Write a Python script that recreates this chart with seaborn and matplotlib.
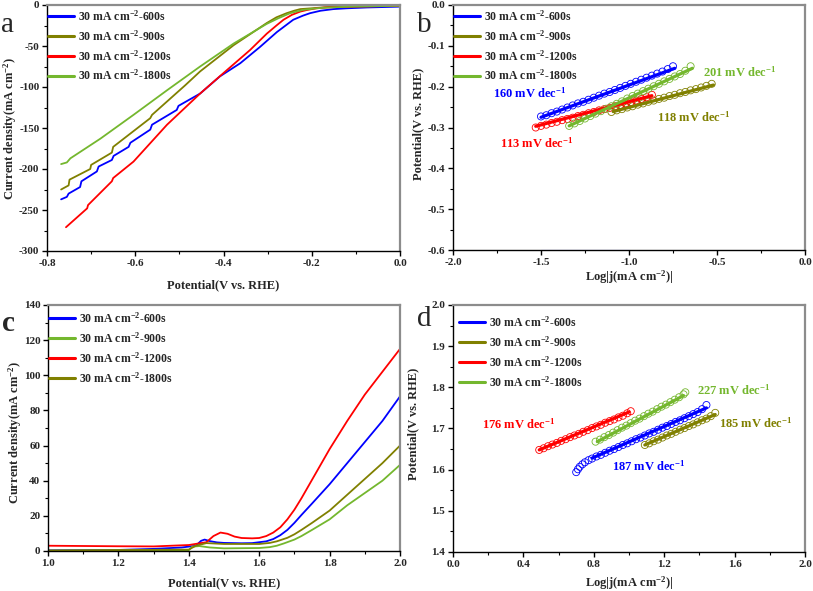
import numpy as np
import pandas as pd
import matplotlib
matplotlib.use("Agg")
import matplotlib.pyplot as plt
from matplotlib.ticker import MultipleLocator, FormatStrFormatter
import seaborn as sns

sns.set_theme(style="ticks")
plt.rcParams['font.family'] = ['Liberation Serif', 'DejaVu Serif']
plt.rcParams['font.weight'] = 'bold'
plt.rcParams['mathtext.fontset'] = 'custom'
plt.rcParams['mathtext.rm'] = 'Liberation Serif:bold'
plt.rcParams['mathtext.bf'] = 'Liberation Serif:bold'
plt.rcParams['mathtext.default'] = 'rm'
plt.rcParams['axes.unicode_minus'] = False

BLUE = '#0000FF'
RED = '#FF0000'
OLIVE = '#808000'
GREEN = '#74B72E'

labels = [r'30 mA cm$^{-2}$-600s', r'30 mA cm$^{-2}$-900s',
          r'30 mA cm$^{-2}$-1200s', r'30 mA cm$^{-2}$-1800s']

# ---------------- Panel a : HER LSV ----------------
a600_v = [-0.768, -0.755, -0.751, -0.725, -0.722, -0.687, -0.683, -0.653, -0.649, -0.615, -0.611,
          -0.566, -0.562, -0.506, -0.502, -0.453, -0.408, -0.362, -0.317, -0.279, -0.242, -0.22,
          -0.204, -0.18, -0.151, -0.12, -0.075, 0.0]
a600_j = [-237, -234, -230, -222, -215, -203, -197, -189, -184, -173, -168,
          -152, -146, -128, -123, -108, -87, -71, -51, -33, -18, -13,
          -10, -7, -5, -4, -3, -2]
a900_v = [-0.768, -0.751, -0.749, -0.702, -0.700, -0.653, -0.650, -0.566, -0.562, -0.487,
          -0.453, -0.377, -0.302, -0.28, -0.257, -0.24, -0.226, -0.20, -0.151, 0.0]
a900_j = [-225, -220, -213, -200, -195, -180, -173, -138, -134, -98,
          -81, -49, -22, -15, -10, -7, -5, -4, -2, -1]
a1200_v = [-0.757, -0.709, -0.707, -0.653, -0.650, -0.604, -0.528, -0.453, -0.400, -0.340,
           -0.302, -0.28, -0.264, -0.245, -0.226, -0.21, -0.189, -0.17, -0.113, 0.0]
a1200_j = [-271, -248, -244, -215, -211, -191, -146, -108, -83, -55,
           -35, -25, -18, -12, -8, -6, -4, -3, -2, -1]
a1800_v = [-0.768, -0.755, -0.747, -0.679, -0.604, -0.528, -0.453, -0.377, -0.302, -0.275,
           -0.249, -0.22, -0.189, -0.16, -0.113, 0.0]
a1800_j = [-194, -192, -187, -163, -134, -104, -75, -47, -23, -16,
           -10, -6, -4, -3, -2, -1]

# ---------------- Panel b : HER Tafel ----------------
b600_x = [-1.50, -1.47, -1.44, -1.41, -1.38, -1.35, -1.32, -1.29, -1.26, -1.23, -1.20, -1.17, -1.14,
          -1.11, -1.08, -1.05, -1.02, -0.99, -0.96, -0.93, -0.90, -0.87, -0.84, -0.81, -0.78, -0.75]
b600_y = [-0.273, -0.270, -0.265, -0.261, -0.256, -0.251, -0.246, -0.241, -0.237, -0.232, -0.227,
          -0.222, -0.217, -0.213, -0.208, -0.203, -0.198, -0.193, -0.188, -0.183, -0.178, -0.173,
          -0.168, -0.163, -0.157, -0.150]
b900_x = [-1.10, -1.07, -1.04, -1.01, -0.98, -0.95, -0.92, -0.89, -0.86, -0.83, -0.80, -0.77,
          -0.74, -0.71, -0.68, -0.65, -0.62, -0.59, -0.56, -0.53]
b900_y = [-0.262, -0.258, -0.255, -0.251, -0.248, -0.244, -0.241, -0.237, -0.234, -0.230, -0.227,
          -0.223, -0.220, -0.216, -0.213, -0.209, -0.206, -0.202, -0.198, -0.193]
b1200_x = [-1.53, -1.50, -1.47, -1.44, -1.41, -1.38, -1.35, -1.32, -1.29, -1.26, -1.23, -1.20,
           -1.17, -1.14, -1.11, -1.08, -1.05, -1.02, -0.99, -0.96, -0.93, -0.90, -0.87]
b1200_y = [-0.300, -0.296, -0.293, -0.289, -0.286, -0.282, -0.279, -0.276, -0.272, -0.269, -0.265,
           -0.262, -0.258, -0.255, -0.252, -0.248, -0.245, -0.241, -0.238, -0.234, -0.230, -0.226,
           -0.220]
b1800_x = [-1.34, -1.31, -1.28, -1.25, -1.22, -1.19, -1.16, -1.13, -1.10, -1.07, -1.04, -1.01,
           -0.98, -0.95, -0.92, -0.89, -0.86, -0.83, -0.80, -0.77, -0.74, -0.71, -0.68, -0.65]
b1800_y = [-0.296, -0.290, -0.284, -0.278, -0.272, -0.266, -0.260, -0.254, -0.248, -0.242, -0.236,
           -0.229, -0.223, -0.217, -0.211, -0.205, -0.199, -0.193, -0.187, -0.181, -0.175, -0.169,
           -0.161, -0.150]
# linear fits (end points)
bfit600 = ([-1.50, -0.74], [-0.275, -0.155])
bfit900 = ([-1.09, -0.52], [-0.261, -0.196])
bfit1200 = ([-1.53, -0.87], [-0.297, -0.222])
bfit1800 = ([-1.34, -0.64], [-0.296, -0.155])
b_slopes = ['160', '118', '113', '201']
b_text_pos = [(-1.773, -0.216), (-0.841, -0.275), (-1.733, -0.338), (-0.580, -0.164)]
b_base_x = [-1.5, -1.0]
b_base_y = [-0.6, -0.6]

# ---------------- Panel c : OER LSV ----------------
c600_v = [1.0, 1.2, 1.3, 1.38, 1.42, 1.435, 1.445, 1.46, 1.48, 1.5, 1.55, 1.58, 1.62, 1.64, 1.66,
          1.68, 1.70, 1.72, 1.75, 1.8, 1.85, 1.9, 1.95, 2.0]
c600_j = [0.4, 0.6, 1.2, 2.0, 3.0, 5.8, 6.5, 5.6, 4.9, 4.6, 4.4, 4.5, 5.5, 6.8, 9.0,
          12, 16, 20.5, 27, 38, 50, 62, 74, 88]
c900_v = [1.0, 1.4, 1.41, 1.43, 1.46, 1.5, 1.6, 1.63, 1.65, 1.67, 1.7, 1.72, 1.75, 1.8, 1.85,
          1.9, 1.95, 2.0]
c900_j = [0.2, 0.5, 2.5, 2.8, 2.0, 1.5, 1.7, 2.2, 3.0, 4.3, 6.5, 8.5, 12, 18, 26,
          33, 40, 49]
c1200_v = [1.0, 1.2, 1.3, 1.4, 1.45, 1.47, 1.49, 1.51, 1.53, 1.55, 1.58, 1.60, 1.62, 1.64, 1.66,
           1.68, 1.70, 1.72, 1.74, 1.76, 1.80, 1.85, 1.90, 1.95, 2.0]
c1200_j = [3.0, 2.7, 2.6, 3.4, 5.0, 8.5, 10.5, 9.8, 8.2, 7.4, 7.2, 7.4, 8.5, 10.5, 13.5,
           18, 23.5, 30, 37, 44, 58, 74, 89, 102, 115]
c1800_v = [1.0, 1.4, 1.42, 1.45, 1.5, 1.6, 1.63, 1.65, 1.68, 1.7, 1.72, 1.75, 1.8, 1.85, 1.9,
           1.95, 2.0]
c1800_j = [0.3, 0.8, 3.0, 4.5, 4.0, 4.0, 4.6, 5.5, 7.5, 9.5, 12, 16, 23, 32, 41,
           50, 60]

# ---------------- Panel d : OER Tafel ----------------
d600_x = [0.70, 0.71, 0.72, 0.735, 0.75, 0.77, 0.79, 0.815, 0.84, 0.865, 0.89, 0.915, 0.94, 0.965,
          0.99, 1.015, 1.04, 1.065, 1.09, 1.115, 1.14, 1.165, 1.19, 1.215, 1.24, 1.265, 1.29,
          1.315, 1.34, 1.365, 1.39, 1.415, 1.44]
d600_y = [1.594, 1.601, 1.607, 1.613, 1.618, 1.623, 1.627, 1.632, 1.636, 1.641, 1.646, 1.650,
          1.655, 1.660, 1.664, 1.669, 1.674, 1.678, 1.683, 1.688, 1.692, 1.697, 1.702, 1.706,
          1.711, 1.716, 1.720, 1.725, 1.730, 1.735, 1.740, 1.747, 1.757]
d900_x = [1.09, 1.115, 1.14, 1.165, 1.19, 1.215, 1.24, 1.265, 1.29, 1.315, 1.34, 1.365, 1.39,
          1.415, 1.44, 1.465, 1.49]
d900_y = [1.660, 1.664, 1.669, 1.673, 1.678, 1.683, 1.687, 1.692, 1.697, 1.701, 1.706, 1.710,
          1.715, 1.720, 1.724, 1.730, 1.738]
d1200_x = [0.49, 0.515, 0.54, 0.565, 0.59, 0.615, 0.64, 0.665, 0.69, 0.715, 0.74, 0.765, 0.79,
           0.815, 0.84, 0.865, 0.89, 0.915, 0.94, 0.965, 0.99, 1.01]
d1200_y = [1.648, 1.652, 1.657, 1.661, 1.665, 1.670, 1.674, 1.679, 1.683, 1.687, 1.692, 1.696,
           1.701, 1.705, 1.709, 1.714, 1.718, 1.722, 1.727, 1.731, 1.737, 1.742]
d1800_x = [0.81, 0.835, 0.86, 0.885, 0.91, 0.935, 0.96, 0.985, 1.01, 1.035, 1.06, 1.085, 1.11,
           1.135, 1.16, 1.185, 1.21, 1.235, 1.26, 1.285, 1.31, 1.32]
d1800_y = [1.668, 1.673, 1.679, 1.684, 1.690, 1.696, 1.702, 1.707, 1.713, 1.719, 1.724, 1.730,
           1.736, 1.741, 1.747, 1.753, 1.758, 1.764, 1.770, 1.776, 1.783, 1.788]
dfit600 = ([0.79, 1.44], [1.628, 1.750])
dfit900 = ([1.09, 1.49], [1.660, 1.734])
dfit1200 = ([0.49, 1.00], [1.648, 1.740])
dfit1800 = ([0.82, 1.31], [1.668, 1.780])
d_slopes = ['187', '185', '176', '227']
d_text_pos = [(0.903, 1.607), (1.511, 1.713), (0.165, 1.709), (1.386, 1.794)]

W, H = 813, 591
fig = plt.figure(figsize=(W / 100, H / 100), dpi=100)


def box(l, r, t, b):
    return [l / W, 1 - b / H, (r - l) / W, (b - t) / H]


axa = fig.add_axes(box(47, 400, 5, 251))
axb = fig.add_axes(box(453, 805, 5, 250))
axc = fig.add_axes(box(48, 400, 305, 551))
axd = fig.add_axes(box(453, 805, 305, 552))


def style(ax, xlim, ylim, xmaj, xmin, ymaj, ymin, xfmt, yfmt):
    ax.set_xlim(*xlim)
    ax.set_ylim(*ylim)
    ax.xaxis.set_major_locator(MultipleLocator(xmaj))
    ax.xaxis.set_minor_locator(MultipleLocator(xmin))
    ax.yaxis.set_major_locator(MultipleLocator(ymaj))
    ax.yaxis.set_minor_locator(MultipleLocator(ymin))
    ax.xaxis.set_major_formatter(FormatStrFormatter(xfmt))
    ax.yaxis.set_major_formatter(FormatStrFormatter(yfmt))
    ax.tick_params(which='major', direction='out', length=3.5, width=1.0, labelsize=8,
                   color='black', pad=2)
    ax.tick_params(which='minor', direction='out', length=2, width=0.8, color='black')
    ax.tick_params(top=False, right=False, which='both')
    for lab in ax.get_xticklabels() + ax.get_yticklabels():
        lab.set_fontweight('bold')
    for s in ['left', 'bottom']:
        ax.spines[s].set_color('black')
        ax.spines[s].set_linewidth(1.0)
    for s in ['top', 'right']:
        ax.spines[s].set_color('#8c8c8c')
        ax.spines[s].set_linewidth(1.6)
    ax.set_facecolor('white')


def lines(ax, series, colors, lw):
    for (x, y), col, lab in zip(series, colors, labels):
        sns.lineplot(x=x, y=y, ax=ax, color=col, lw=lw, label=lab, sort=False,
                     estimator=None)


def legend(ax, anchor):
    leg = ax.legend(loc='upper left', bbox_to_anchor=anchor, frameon=False,
                    prop={'size': 8.5, 'weight': 'bold'}, handlelength=2.2,
                    handletextpad=0.35, labelspacing=0.45, borderpad=0, borderaxespad=0)
    for h in leg.get_lines():
        h.set_linewidth(2.2)


def tafel(ax, circles, fits, colors, slopes, pos):
    for (x, y), col in zip(circles, colors):
        sns.scatterplot(x=x, y=y, ax=ax, marker='o', s=26, color=col, facecolor='none',
                        edgecolor=col, linewidth=0.6, legend=False, zorder=2)
    for (x, y), col, lab in zip(fits, colors, labels):
        sns.lineplot(x=x, y=y, ax=ax, color=col, lw=2.3, label=lab, sort=False,
                     estimator=None, zorder=3)
    for sl, (tx, ty), col in zip(slopes, pos, colors):
        ax.text(tx, ty, sl + r' mV dec$^{-1}$', color=col, fontsize=9, fontweight='bold',
                ha='left', va='center')


# Panel a
lines(axa, [(a600_v, a600_j), (a900_v, a900_j), (a1200_v, a1200_j), (a1800_v, a1800_j)],
      [BLUE, OLIVE, RED, GREEN], 1.3)
style(axa, (-0.8, 0.0), (-300, 0), 0.2, 0.1, 50, 25, '%.1f', '%d')
legend(axa, (0.003, 0.985))
axa.set_xlabel('Potential(V vs. RHE)', fontsize=9, fontweight='bold', va='center')
axa.set_ylabel(r'Current density(mA cm$^{-2}$)', fontsize=9, fontweight='bold', va='center')
axa.xaxis.set_label_coords(0.5, -0.138)
axa.yaxis.set_label_coords(-0.105, 0.5)

# Panel b
tafel(axb, [(b600_x, b600_y), (b900_x, b900_y), (b1200_x, b1200_y), (b1800_x, b1800_y)],
      [bfit600, bfit900, bfit1200, bfit1800], [BLUE, OLIVE, RED, GREEN], b_slopes, b_text_pos)
sns.lineplot(x=b_base_x, y=b_base_y, ax=axb, color='#6a6aff', lw=0.8, sort=False,
             estimator=None, legend=False, zorder=4)
style(axb, (-2.0, 0.0), (-0.6, 0.0), 0.5, 0.25, 0.1, 0.05, '%.1f', '%.1f')
legend(axb, (0.003, 0.985))
axb.set_xlabel(r'Log|j(mA cm$^{-2}$)|', fontsize=9, fontweight='bold', va='center')
axb.set_ylabel('Potential(V vs. RHE)', fontsize=9, fontweight='bold', va='center')
axb.xaxis.set_label_coords(0.5, -0.11)
axb.yaxis.set_label_coords(-0.099, 0.514)

# Panel c
lines(axc, [(c600_v, c600_j), (c900_v, c900_j), (c1200_v, c1200_j), (c1800_v, c1800_j)],
      [BLUE, GREEN, RED, OLIVE], 1.3)
style(axc, (1.0, 2.0), (0, 140), 0.2, 0.1, 20, 10, '%.1f', '%d')
legend(axc, (0.003, 0.976))
axc.set_xlabel('Potential(V vs. RHE)', fontsize=9, fontweight='bold', va='center')
axc.set_ylabel(r'Current density(mA cm$^{-2}$)', fontsize=9, fontweight='bold', va='center')
axc.xaxis.set_label_coords(0.5, -0.13)
axc.yaxis.set_label_coords(-0.094, 0.484)

# Panel d
tafel(axd, [(d600_x, d600_y), (d900_x, d900_y), (d1200_x, d1200_y), (d1800_x, d1800_y)],
      [dfit600, dfit900, dfit1200, dfit1800], [BLUE, OLIVE, RED, GREEN], d_slopes, d_text_pos)
style(axd, (0.0, 2.0), (1.4, 2.0), 0.4, 0.2, 0.1, 0.05, '%.1f', '%.1f')
legend(axd, (0.017, 0.96))
axd.set_xlabel(r'Log|j(mA cm$^{-2}$)|', fontsize=9, fontweight='bold', va='center')
axd.set_ylabel('Potential(V vs. RHE)', fontsize=9, fontweight='bold', va='center')
axd.xaxis.set_label_coords(0.5, -0.126)
axd.yaxis.set_label_coords(-0.114, 0.518)

# Panel letters
fig.text(1 / W, 1 - 32 / H, 'a', fontsize=21, fontweight='normal', va='baseline')
fig.text(417 / W, 1 - 32 / H, 'b', fontsize=21, fontweight='normal', va='baseline')
fig.text(2 / W, 1 - 331 / H, 'c', fontsize=21, fontweight='bold', va='baseline')
fig.text(417 / W, 1 - 326 / H, 'd', fontsize=21, fontweight='normal', va='baseline')

fig.savefig('out.png', dpi=100, facecolor='white')
